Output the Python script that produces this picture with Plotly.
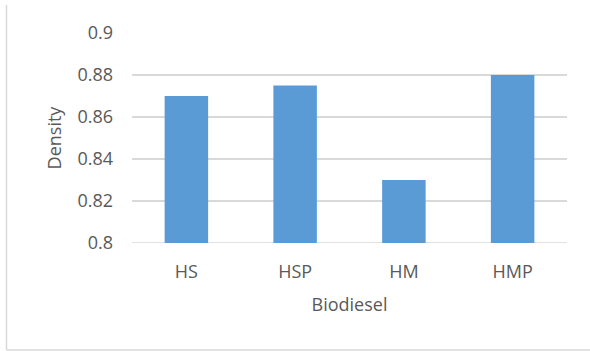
import plotly.graph_objects as go

# Biodiesel density by sample
samples = ["HS", "HSP", "HM", "HMP"]
density = [0.870, 0.875, 0.830, 0.880]
y_ticks = [0.8, 0.82, 0.84, 0.86, 0.88, 0.9]
y_tick_text = ["0.8", "0.82", "0.84", "0.86", "0.88", "0.9"]

W, H = 590, 351
ML, MR, MT, MB = 132, 23, 33, 108
pw, ph = W - ML - MR, H - MT - MB

def px_x(x):
    return (x - ML) / pw

def px_y(y):
    return (H - MB - y) / ph

TEXT = "#595959"
GRID = "#D9D9D9"
FONT = "Open Sans"

fig = go.Figure(
    go.Bar(
        x=samples,
        y=density,
        marker=dict(color="#5B9BD5", line=dict(width=0)),
        width=0.4,
    )
)

fig.update_layout(
    width=W,
    height=H,
    margin=dict(l=ML, r=MR, t=MT, b=MB),
    paper_bgcolor="white",
    plot_bgcolor="white",
    showlegend=False,
    font=dict(family=FONT, size=18, color=TEXT),
    xaxis=dict(
        title=dict(text="Biodiesel", font=dict(size=18, color=TEXT), standoff=16),
        showgrid=False,
        showline=False,
        ticks="",
        ticklabelstandoff=16,
        tickfont=dict(size=18, color=TEXT),
    ),
    yaxis=dict(
        title=dict(text="Density", font=dict(size=18, color=TEXT), standoff=11),
        range=[0.8, 0.9],
        tickvals=y_ticks,
        ticktext=y_tick_text,
        showgrid=True,
        gridcolor=GRID,
        gridwidth=1.5,
        zeroline=False,
        showline=False,
        ticks="",
        ticklabelstandoff=18,
        tickfont=dict(size=18, color=TEXT),
    ),
    shapes=[
        # bottom of the category axis
        dict(type="line", xref="paper", yref="y", x0=0, x1=1, y0=0.8, y1=0.8,
             line=dict(color=GRID, width=1.5), layer="below"),
        # chart frame (left and bottom edges)
        dict(type="line", xref="paper", yref="paper",
             x0=px_x(6.5), x1=px_x(6.5), y0=px_y(350), y1=px_y(5),
             line=dict(color=GRID, width=1.5)),
        dict(type="line", xref="paper", yref="paper",
             x0=px_x(6.5), x1=px_x(592), y0=px_y(350), y1=px_y(350),
             line=dict(color=GRID, width=1.5)),
    ],
)

fig.write_html("out.html")
